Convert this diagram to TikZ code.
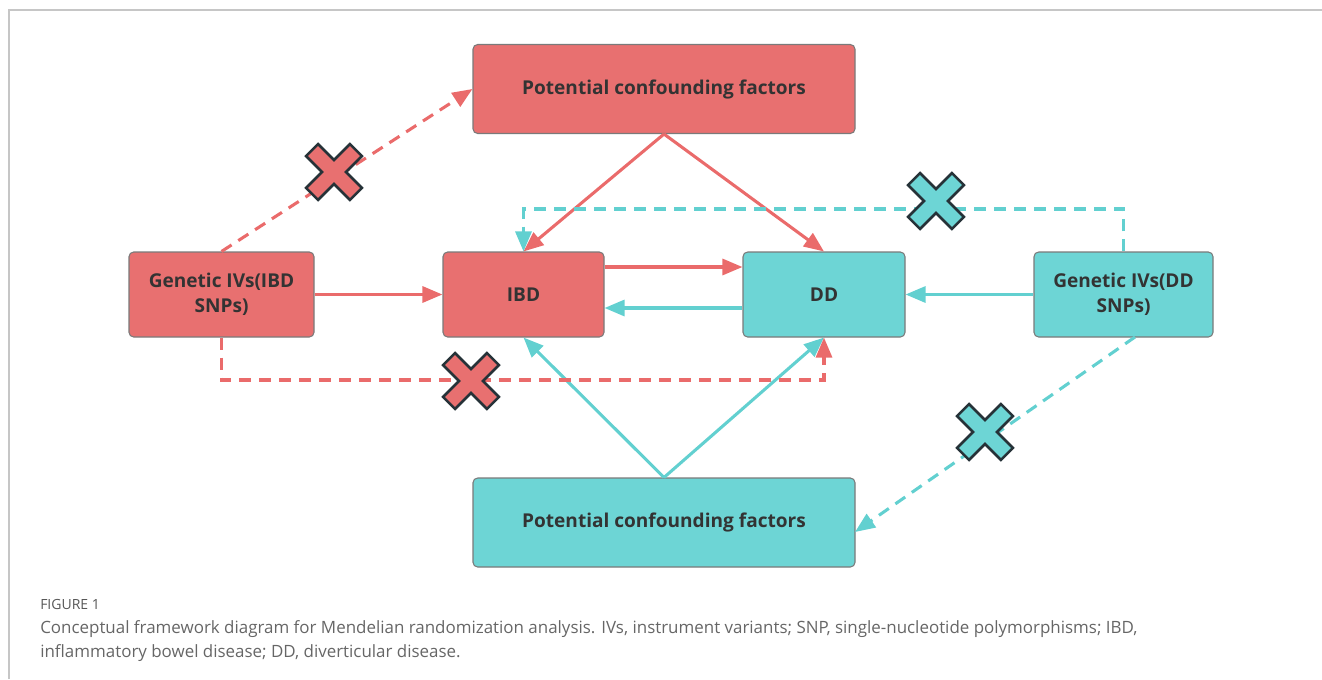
\documentclass[tikz,border=0pt]{standalone}
\usepackage{fontspec}
\setmainfont{Open Sans}
\usetikzlibrary{arrows.meta,positioning}
\definecolor{ibdred}{HTML}{E87070}
\definecolor{ddcyan}{HTML}{6DD5D5}
\definecolor{redline}{HTML}{EA6B6B}
\definecolor{cyanline}{HTML}{62D0D0}
\definecolor{boxedge}{HTML}{7A7A7A}
\definecolor{boxtext}{HTML}{333333}
\definecolor{crossedge}{HTML}{263238}
\definecolor{captext}{HTML}{666666}

\begin{document}
\begin{tikzpicture}[x=0.75pt,y=-0.75pt,
    box/.style={draw=boxedge, line width=0.8pt, rounded corners=3.5pt, align=center,
        text=boxtext, font=\bfseries\fontsize{14.3}{19}\selectfont, inner sep=0pt},
    redbox/.style={box, fill=ibdred},
    cyanbox/.style={box, fill=ddcyan},
    link/.style={line width=2.3pt, -{Triangle[length=15pt,width=12pt]}},
    redlink/.style={link, draw=redline},
    cyanlink/.style={link, draw=cyanline},
    blocked/.style={dash pattern=on 9pt off 6pt},
    pics/nocross/.style={code={
        \filldraw[line width=1.9pt, draw=crossedge, fill=#1, rotate=45]
          (-8.5,31) -- (8.5,31) -- (8.5,8.5) -- (31,8.5) -- (31,-8.5) -- (8.5,-8.5)
          -- (8.5,-31) -- (-8.5,-31) -- (-8.5,-8.5) -- (-31,-8.5) -- (-31,8.5)
          -- (-8.5,8.5) -- cycle;}},
    caption/.style={anchor=base west, inner sep=0pt, text=captext}]
\useasboundingbox (0,0) rectangle (1322,679);
% frame
\draw[line width=0.8pt, gray!45] (9,679) -- (9,10) -- (1322,10);

% boxes
\node[redbox, minimum width=286.5pt, minimum height=66.75pt] (topconf) at (664,89) {Potential confounding factors};
\node[cyanbox, minimum width=286.5pt, minimum height=66.75pt] (botconf) at (664,522.5) {Potential confounding factors};
\node[redbox, minimum width=138.75pt, minimum height=63.75pt] (gibd) at (221.5,294.5) {Genetic IVs(IBD\\SNPs)};
\node[redbox, minimum width=120.75pt, minimum height=63.75pt] (ibd) at (523.5,294.5) {IBD};
\node[cyanbox, minimum width=121.5pt, minimum height=63.75pt] (dd) at (824,294.5) {DD};
\node[cyanbox, minimum width=134.25pt, minimum height=63.75pt] (gdd) at (1123.5,294.5) {Genetic IVs(DD\\SNPs)};

% solid arrows
\draw[redlink] (topconf.south) -- (ibd.north);
\draw[redlink] (topconf.south) -- (dd.north);
\draw[redlink] (gibd) -- (ibd);
\draw[redlink] (ibd.east |- 0,267) -- (dd.west |- 0,267);
\draw[cyanlink] (dd.west |- 0,308) -- (ibd.east |- 0,308);
\draw[cyanlink] (gdd) -- (dd);
\draw[cyanlink] (botconf.north) -- (ibd.south);
\draw[cyanlink] (botconf.north) -- (dd.south);

% dashed arrows
\coordinate (gddfoot) at (1135,337);
\coordinate (botin) at (855,532);
\draw[redlink, blocked] (gibd.north) -- (topconf.west);
\draw[redlink, blocked] (gibd.south) -- (gibd.south |- 0,380) -- (dd.south |- 0,380) -- (dd.south);
\draw[cyanlink, blocked] (gdd.north) -- (gdd.north |- 0,209) -- (ibd.north |- 0,209) -- (ibd.north);
\draw[cyanlink, blocked] (gddfoot) -- (botin);

% crosses
\pic at (334,172) {nocross=ibdred};
\pic at (471,381) {nocross=ibdred};
\pic at (936,201) {nocross=ddcyan};
\pic at (985,432) {nocross=ddcyan};

% caption
\node[caption, font=\fontsize{10.5}{12}\selectfont, text=captext!85!black] (figlabel) at (40,609) {FIGURE 1};
\node[caption, font=\fontsize{12.7}{15}\selectfont] (capline1) at (40,633) {Conceptual framework diagram for Mendelian randomization analysis. IVs, instrument variants; SNP, single-nucleotide polymorphisms; IBD,};
\node[caption, font=\fontsize{12.7}{15}\selectfont] (capline2) at (40,657) {inflammatory bowel disease; DD, diverticular disease.};
\end{tikzpicture}
\end{document}
